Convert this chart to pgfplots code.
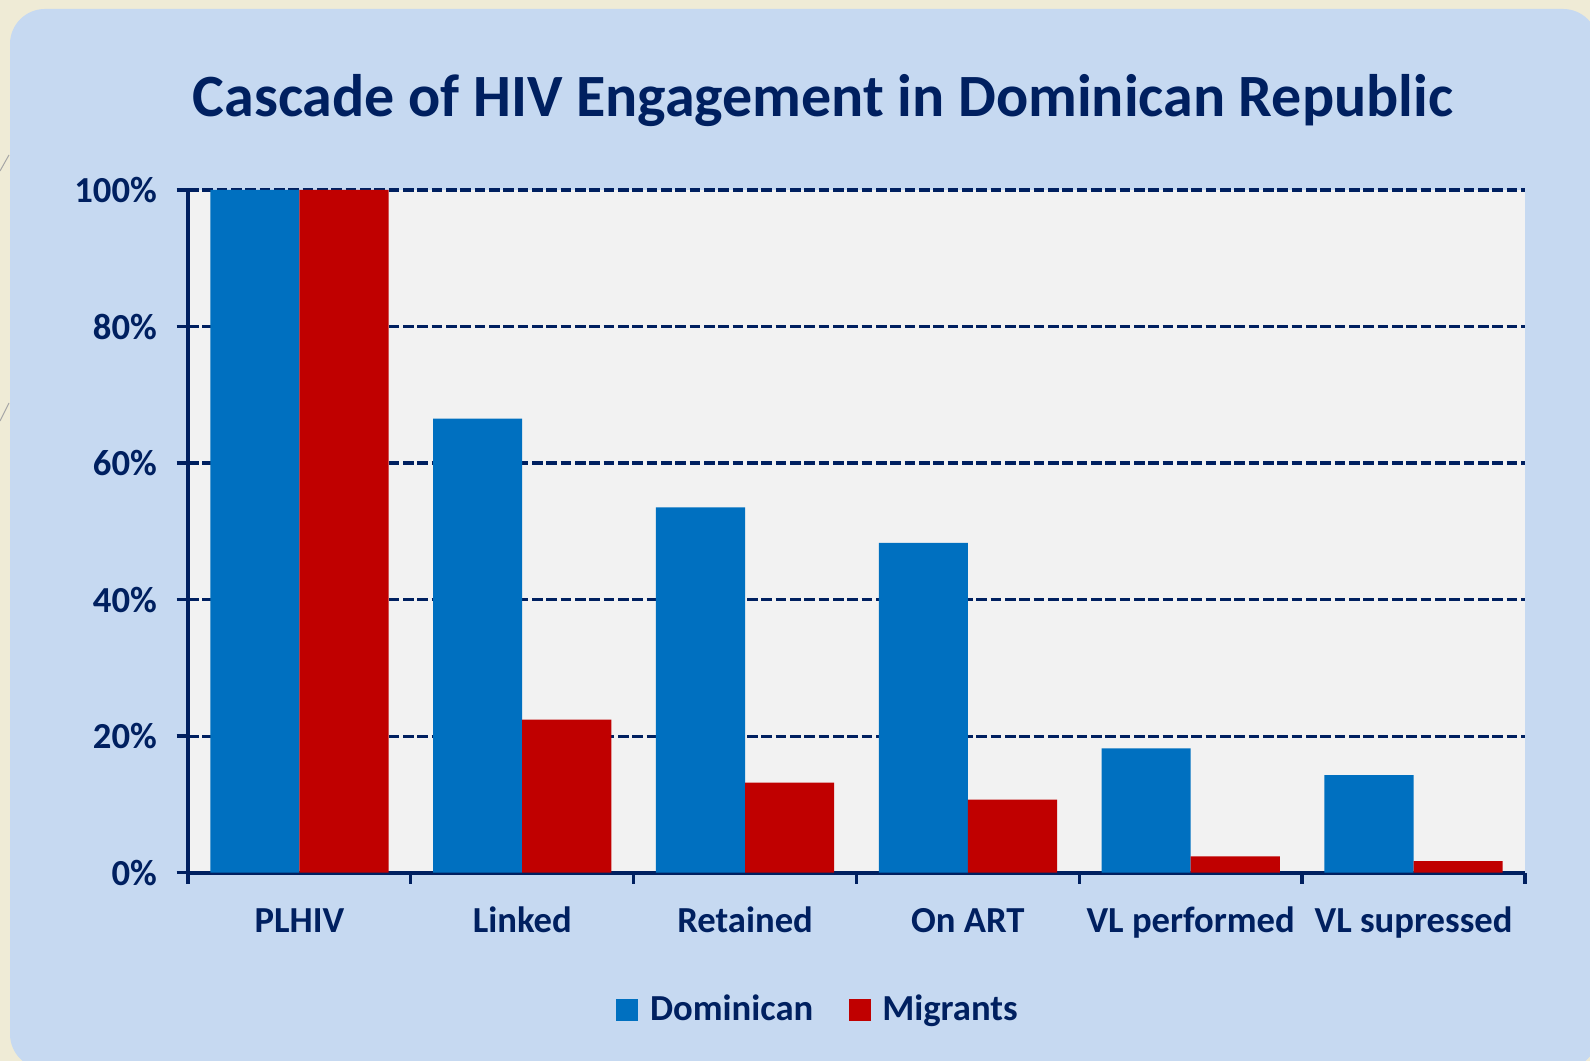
\documentclass[border=0pt]{standalone}
\usepackage{fontspec}
\setmainfont{Carlito}
\usepackage{pgfplots}
\pgfplotsset{compat=1.18}
\definecolor{cream}{RGB}{239,235,214}
\definecolor{panel}{RGB}{198,217,241}
\definecolor{plotgray}{RGB}{242,242,242}
\definecolor{navy}{RGB}{0,32,96}
\definecolor{domblue}{RGB}{0,112,192}
\definecolor{migred}{RGB}{192,0,0}
\begin{document}
\begin{tikzpicture}[x=0.3pt,y=0.3pt]
\useasboundingbox (0,0) rectangle (1590,1061);
\fill[cream] (0,0) rectangle (1590,1061);
\begin{scope}
  \clip (0,0) rectangle (1590,1061);
  \fill[panel, rounded corners=10.5pt] (10,-8) rectangle (1598,1052);
\end{scope}
\draw[black!35, line width=0.3pt] (0,640) -- (9,658);
\draw[black!35, line width=0.3pt] (0,890) -- (9,906);
\node[anchor=base, text=navy, font=\bfseries\fontsize{18}{18}\selectfont]
  at (823,944) {Cascade of HIV Engagement in Dominican Republic};
\begin{axis}[
  at={(56.4pt,56.5pt)}, anchor=south west,
  scale only axis, width=401.1pt, height=204.8pt,
  axis background/.style={fill=plotgray},
  ybar, bar width=0.4,
  xmin=-0.5, xmax=5.5, ymin=0, ymax=100,
  axis x line*=bottom, axis y line*=left,
  axis line style={navy, line width=1.2pt, -},
  tick align=outside,
  major tick length=3.4pt, minor tick length=3.4pt,
  tick style={navy, line width=1pt},
  xtick={0,...,5},
  xticklabels={PLHIV, Linked, Retained, On ART, VL performed, VL supressed},
  major x tick style={draw=none},
  minor xtick={-0.5,0.5,...,5.5},
  ytick={0,20,...,100},
  yticklabels={0\%,20\%,40\%,60\%,80\%,100\%},
  ticklabel style={font=\bfseries\fontsize{11}{13}\selectfont, text=navy},
  xticklabel style={text height=8pt, text depth=2.5pt, yshift=-3.1pt},
  yticklabel style={xshift=-2.4pt},
  ymajorgrids,
  grid style={navy, line width=0.95pt, dash pattern=on 3.2pt off 1.1pt},
  legend columns=2,
  legend style={at={(0.473,-0.201)}, anchor=center, draw=none, fill=none,
    font=\bfseries\fontsize{11}{13}\selectfont, text=navy,
    /tikz/every odd column/.append style={column sep=1.5pt},
    /tikz/every even column/.append style={column sep=8.6pt}},
  legend image code/.code={\fill[#1] (0pt,-3.3pt) rectangle (6.6pt,3.3pt);},
]
\addplot[fill=domblue, draw=none, bar shift=-0.2] coordinates {
  (0,100) (1,66.5) (2,53.5) (3,48.3) (4,18.2) (5,14.3)
};
\addplot[fill=migred, draw=none, bar shift=0.2] coordinates {
  (0,100) (1,22.4) (2,13.2) (3,10.7) (4,2.4) (5,1.7)
};
\legend{Dominican, Migrants}
\end{axis}
\end{tikzpicture}
\end{document}
